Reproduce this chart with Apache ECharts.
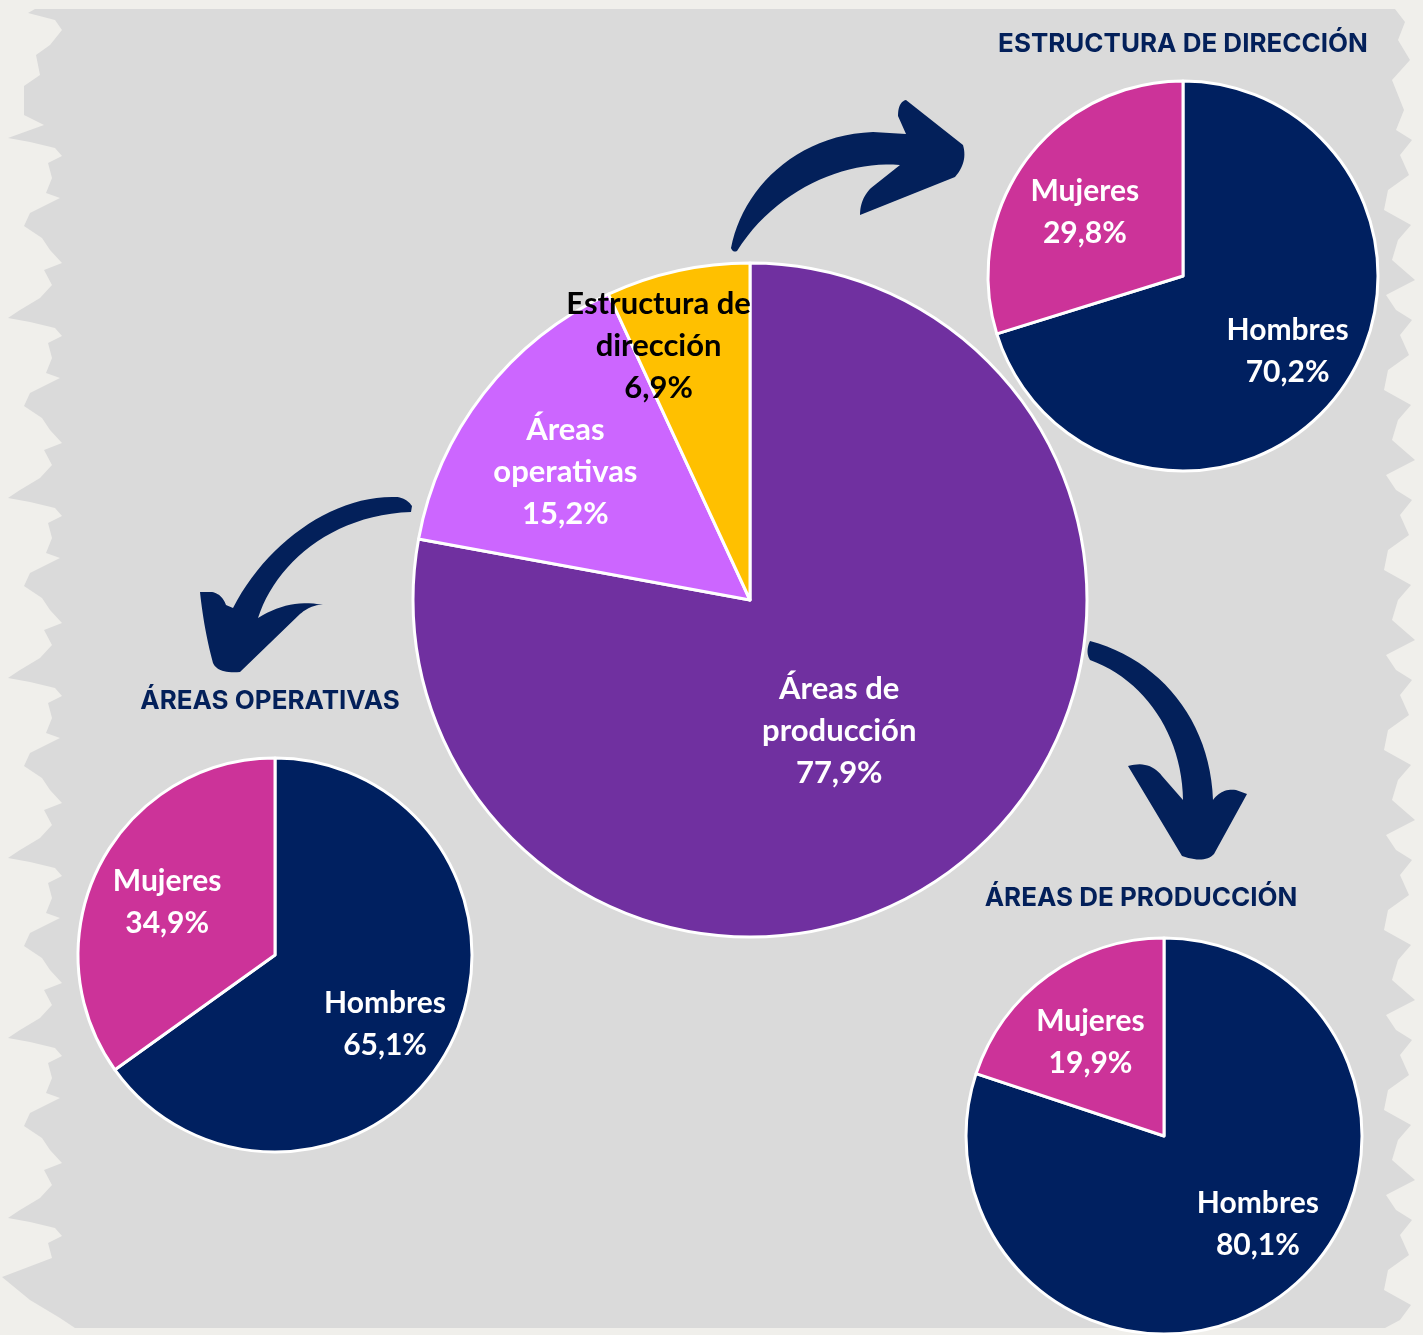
<!DOCTYPE html>
<html lang="es">
<head>
<meta charset="utf-8">
<title>Distribución por áreas y sexo</title>
<script src="https://cdn.jsdelivr.net/npm/echarts@6/dist/echarts.min.js"></script>
<style>
  html, body { margin: 0; padding: 0; background: #f0efeb; }
  #chart { width: 1423px; height: 1335px; }
</style>
</head>
<body>
<div id="chart"></div>
<script>
// Shares of the workforce by area (main pie)
const areaNames = ['Áreas de\nproducción', 'Áreas\noperativas', 'Estructura de\ndirección'];
const areaShares = [77.9, 15.2, 6.9];

// Split by sex inside each area
const sexNames = ['Hombres', 'Mujeres'];
const direccionShares = [70.2, 29.8];
const operativasShares = [65.1, 34.9];
const produccionShares = [80.1, 19.9];

// Headings of the three detail pies
const panelTitles = ['ESTRUCTURA DE DIRECCIÓN', 'ÁREAS OPERATIVAS', 'ÁREAS DE PRODUCCIÓN'];

const COLORS = {
  navy: '#002060', magenta: '#cc3399', purple: '#7030a0',
  lilac: '#cc66ff', gold: '#ffc000', ink: '#03205a',
  paper: '#f0efeb', board: '#dadada'
};

// Geometry and label placement of each pie: place = [fraction of radius, angular nudge in degrees]
const pieLayouts = [
  { center: [750, 600], radius: 337, names: areaNames, values: areaShares, fontSize: 31,
    colors: [COLORS.purple, COLORS.lilac, COLORS.gold], text: ['#ffffff', '#ffffff', '#000000'],
    place: [[0.47, 5.5], [0.667, -3], [0.80, -7.4]] },
  { center: [1183, 276], radius: 195, names: sexNames, values: direccionShares, fontSize: 30,
    colors: [COLORS.navy, COLORS.magenta], text: ['#ffffff', '#ffffff'],
    place: [[0.66, -0.7], [0.60, -3.4]] },
  { center: [275, 955], radius: 197, names: sexNames, values: operativasShares, fontSize: 30,
    colors: [COLORS.navy, COLORS.magenta], text: ['#ffffff', '#ffffff'],
    place: [[0.66, 5], [0.61, -1]] },
  { center: [1164, 1136], radius: 198, names: sexNames, values: produccionShares, fontSize: 30,
    colors: [COLORS.navy, COLORS.magenta], text: ['#ffffff', '#ffffff'],
    place: [[0.65, -11], [0.60, -2.4]] }
];

const titleSpots = [[1183, 44], [270, 701], [1141, 898]];

function pct(v) { return v.toFixed(1).replace('.', ',') + '%'; }

// Put a slice label on its mid angle (clockwise from 12 o'clock), at a chosen radius
function labelSpot(cfg, idx) {
  const total = cfg.values.reduce((a, b) => a + b, 0);
  let before = 0;
  for (let i = 0; i < idx; i++) before += cfg.values[i];
  const mid = (before + cfg.values[idx] / 2) / total * 360 + cfg.place[idx][1];
  const rad = mid * Math.PI / 180;
  const d = cfg.place[idx][0] * cfg.radius;
  return { x: cfg.center[0] + d * Math.sin(rad), y: cfg.center[1] - d * Math.cos(rad) };
}

const series = pieLayouts.map((cfg, si) => ({
  type: 'pie',
  center: cfg.center,
  radius: [0, cfg.radius],
  startAngle: 90,
  clockwise: true,
  silent: true,
  z: 3,
  itemStyle: { borderColor: '#ffffff', borderWidth: 3 },
  label: {
    show: true,
    position: 'inside',
    fontFamily: 'Lato, "Open Sans", sans-serif',
    fontWeight: 'bold',
    fontSize: cfg.fontSize,
    lineHeight: 42,
    formatter: p => p.name + '\n' + pct(p.value)
  },
  labelLine: { show: false },
  labelLayout: p => {
    const s = labelSpot(pieLayouts[si], p.dataIndex);
    return { x: s.x, y: s.y, align: 'center', verticalAlign: 'middle' };
  },
  emphasis: { disabled: true },
  data: cfg.values.map((v, i) => ({
    name: cfg.names[i],
    value: v,
    itemStyle: { color: cfg.colors[i] },
    label: { color: cfg.text[i] }
  }))
}));

// Flatten a small M/L/Q/C outline into polygon points
function tracePath(cmds) {
  const pts = [];
  let px = 0, py = 0;
  cmds.forEach(c => {
    const t = c[0];
    if (t === 'M' || t === 'L') {
      px = c[1]; py = c[2]; pts.push([px, py]);
    } else if (t === 'Q') {
      for (let i = 1; i <= 14; i++) {
        const s = i / 14, u = 1 - s;
        pts.push([u * u * px + 2 * u * s * c[1] + s * s * c[3],
                  u * u * py + 2 * u * s * c[2] + s * s * c[4]]);
      }
      px = c[3]; py = c[4];
    } else if (t === 'C') {
      for (let i = 1; i <= 24; i++) {
        const s = i / 24, u = 1 - s;
        pts.push([u * u * u * px + 3 * u * u * s * c[1] + 3 * u * s * s * c[3] + s * s * s * c[5],
                  u * u * u * py + 3 * u * u * s * c[2] + 3 * u * s * s * c[4] + s * s * s * c[6]]);
      }
      px = c[5]; py = c[6];
    }
  });
  return pts;
}

// Curved arrows linking the main pie to each detail pie
const arrowOutlines = [
  [['M', 731, 248], ['C', 742, 190, 795, 135, 873, 132], ['L', 906, 134], ['L', 898, 116],
   ['Q', 898, 102, 906, 100], ['L', 963, 145], ['Q', 968, 162, 955, 177], ['L', 860, 215],
   ['Q', 860, 199, 871, 188], ['L', 900, 165], ['C', 845, 160, 775, 190, 737, 251],
   ['Q', 733, 253, 731, 248]],
  [['M', 412, 506], ['Q', 405, 496, 392, 497], ['C', 330, 497, 265, 545, 233, 608],
   ['L', 226, 605], ['Q', 222, 594, 212, 592], ['L', 200, 592], ['Q', 204, 630, 213, 663],
   ['Q', 218, 674, 240, 672], ['L', 300, 614], ['Q', 312, 604, 323, 605],
   ['Q', 290, 598, 258, 618], ['C', 275, 565, 330, 515, 411, 512]],
  [['M', 1090, 641], ['C', 1160, 660, 1210, 720, 1213, 800], ['Q', 1222, 788, 1236, 790],
   ['L', 1247, 794], ['L', 1214, 854], ['Q', 1205, 864, 1182, 856], ['L', 1128, 766],
   ['Q', 1150, 760, 1162, 776], ['L', 1183, 800], ['C', 1182, 735, 1145, 680, 1090, 660],
   ['Q', 1085, 652, 1090, 641]]
];

// Brush-stroke board behind everything: ragged left and right edges
function boardOutline() {
  const leftTpl = [[0, 8], [4, 30], [10, 55], [18, 62], [25, 48], [40, 52], [55, 46], [60, 60],
                   [75, 30], [88, 24], [100, 42], [112, 50], [125, 62], [132, 44], [147, 52],
                   [160, 40], [172, 20]];
  const rightTpl = [[0, 1396], [10, 1412], [25, 1400], [45, 1409], [60, 1388], [80, 1384],
                    [95, 1411], [110, 1398], [130, 1392], [150, 1415], [165, 1386]];
  const pts = [[35, 9], [1395, 9], [1405, 22], [1398, 40], [1410, 60], [1392, 80], [1404, 110]];
  for (let y0 = 130; y0 < 1310; y0 += 180) {
    rightTpl.forEach(([dy, x]) => { if (y0 + dy < 1318) pts.push([x, y0 + dy]); });
  }
  pts.push([1400, 1320], [1385, 1328], [75, 1328], [60, 1318], [30, 1300], [2, 1277]);
  const left = [];
  for (let y0 = 138; y0 < 1270; y0 += 180) {
    leftTpl.forEach(([dy, x]) => { if (y0 + dy < 1270) left.push([x, y0 + dy]); });
  }
  left.reverse().forEach(p => pts.push(p));
  pts.push([44, 125], [24, 115], [24, 86], [40, 75], [36, 55], [50, 45], [62, 30], [55, 20], [28, 13]);
  return pts;
}

const graphics = [
  { type: 'polygon', z: 0, silent: true, shape: { points: boardOutline() },
    style: { fill: COLORS.board } }
];
arrowOutlines.forEach(o => graphics.push({
  type: 'polygon', z: 1, silent: true, shape: { points: tracePath(o) },
  style: { fill: COLORS.ink }
}));
panelTitles.forEach((t, i) => graphics.push({
  type: 'text', z: 10, silent: true, x: titleSpots[i][0], y: titleSpots[i][1],
  style: {
    text: t, fill: COLORS.ink, align: 'center', verticalAlign: 'middle',
    fontFamily: 'Inter, "Open Sans", sans-serif', fontWeight: 700, fontSize: 26
  }
}));

const chart = echarts.init(document.getElementById('chart'), null, { renderer: 'canvas' });
chart.setOption({
  backgroundColor: COLORS.paper,
  animation: false,
  graphic: { elements: graphics },
  series: series
});
</script>
</body>
</html>
